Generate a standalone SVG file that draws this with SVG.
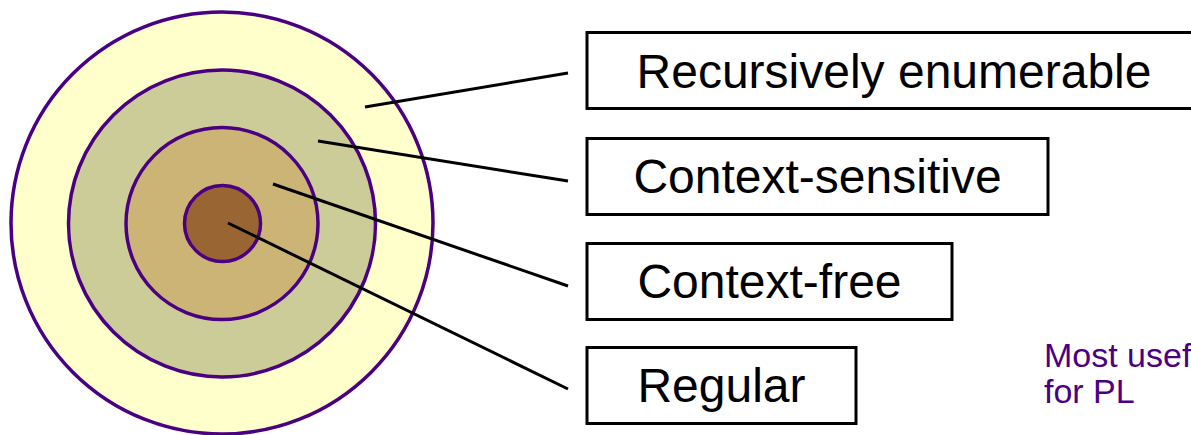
<svg xmlns="http://www.w3.org/2000/svg" width="1191" height="435" viewBox="0 0 1191 435">
<style>
.ring{stroke:#4b0082;stroke-width:3.5}
.box{fill:#ffffff;stroke:#000000;stroke-width:3}
.lbl{font-family:"Liberation Sans",Arial,sans-serif;font-size:48px;fill:#000000;text-anchor:middle}
.note{font-family:"Liberation Sans",Arial,sans-serif;font-size:34px;fill:#4b0082}
.conn{stroke:#000000;stroke-width:3;fill:none}
</style>
<rect width="1191" height="435" fill="#ffffff"/>
<g id="rings">
<circle class="ring" cx="222" cy="223" r="211" fill="#ffffcc"/>
<circle class="ring" cx="222" cy="223.5" r="153.5" fill="#cccc99"/>
<circle class="ring" cx="222" cy="223.5" r="96" fill="#ccb477"/>
<circle class="ring" cx="222.5" cy="223.5" r="38" fill="#996633"/>
</g>
<g id="connectors">
<line class="conn" x1="365" y1="107" x2="568" y2="73"/>
<line class="conn" x1="318" y1="141" x2="568" y2="181"/>
<line class="conn" x1="273" y1="184" x2="568" y2="286"/>
<line class="conn" x1="228" y1="223" x2="568" y2="389"/>
</g>
<g id="node-re">
<rect class="box" x="587" y="32.5" width="640" height="76"/>
<text class="lbl" x="894" y="88">Recursively enumerable</text>
</g>
<g id="node-cs">
<rect class="box" x="587" y="138.5" width="461" height="76"/>
<text class="lbl" x="817.5" y="193">Context-sensitive</text>
</g>
<g id="node-cf">
<rect class="box" x="587" y="243.5" width="365" height="76"/>
<text class="lbl" x="769.5" y="298">Context-free</text>
</g>
<g id="node-reg">
<rect class="box" x="587" y="347.5" width="269" height="76"/>
<text class="lbl" x="721.5" y="402">Regular</text>
</g>
<g id="note">
<text class="note" x="1044" y="367">Most useful</text>
<text class="note" x="1044" y="403">for PL</text>
</g>
</svg>
